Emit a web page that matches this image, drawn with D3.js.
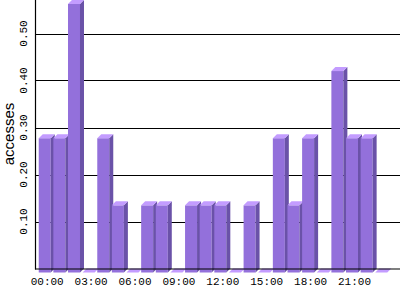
<!DOCTYPE html>
<html>
<head>
<meta charset="utf-8">
<script src="https://cdn.jsdelivr.net/npm/d3@7"></script>
<style>
  body { margin: 0; background: #fff; }
  svg { display: block; }
</style>
</head>
<body>
<div id="chart"></div>
<script>
// hourly accesses (0..23)
const hours = d3.range(24);
const accesses = [0.2857, 0.2857, 0.5714, 0, 0.2857, 0.1429, 0, 0.1429, 0.1429, 0, 0.1429, 0.1429,
                  0.1429, 0, 0.1429, 0, 0.2857, 0.1429, 0.2857, 0, 0.4286, 0.2857, 0.2857, 0];
const yTicks = [0.1, 0.2, 0.3, 0.4, 0.5];
const xTickHours = [0, 3, 6, 9, 12, 15, 18, 21];

const width = 400, height = 300;
const depth = 4; // 3d offset
const frontColor = "#9370db", sideColor = "#6a52a8", topColor = "#c39cff";

const svg = d3.select("#chart").append("svg")
    .attr("width", width)
    .attr("height", height);

const x = d3.scaleBand()
    .domain(hours)
    .range([38, 388])
    .paddingInner(0.18)
    .paddingOuter(0.05);

const y = d3.scaleLinear()
    .domain([0, 0.5])
    .range([268.5, 33.5]);

// grid lines
svg.append("g")
    .selectAll("line")
    .data(yTicks)
    .enter()
    .append("line")
      .attr("x1", 36)
      .attr("x2", width)
      .attr("y1", d => Math.round(y(d)) + 0.5)
      .attr("y2", d => Math.round(y(d)) + 0.5)
      .attr("stroke", "black")
      .attr("stroke-width", 1.2);

// bars drawn left to right so next front covers previous side
const bars = svg.append("g");
hours.forEach(function(h) {
    const v = accesses[h];
    const x0 = x(h), w = x.bandwidth();
    const yTop = y(v) + depth, yBot = y(0) + depth;
    const g = bars.append("g");
    if (v > 0) {
        g.append("rect")
            .attr("x", x0).attr("y", yTop)
            .attr("width", w).attr("height", yBot - yTop)
            .attr("fill", frontColor);
        g.append("path")
            .attr("d", `M${x0 + w},${yTop} L${x0 + w + depth},${yTop - depth} L${x0 + w + depth},${yBot - depth} L${x0 + w},${yBot} Z`)
            .attr("fill", sideColor);
    }
    g.append("path")
        .attr("d", `M${x0},${yTop} L${x0 + depth},${yTop - depth} L${x0 + w + depth},${yTop - depth} L${x0 + w},${yTop} Z`)
        .attr("fill", topColor);
});

// axes lines
svg.append("line")
    .attr("x1", 35.5).attr("x2", 35.5)
    .attr("y1", 0).attr("y2", 269.5)
    .attr("stroke", "black")
    .attr("stroke-width", 1.2);

svg.append("line")
    .attr("x1", 35).attr("x2", width)
    .attr("y1", 269).attr("y2", 269)
    .attr("stroke", "black")
    .attr("stroke-width", 1.2);

// y tick labels, rotated
svg.append("g")
    .selectAll("text")
    .data(yTicks)
    .enter()
    .append("text")
      .attr("transform", d => `translate(27,${y(d)}) rotate(-90)`)
      .attr("text-anchor", "middle")
      .style("font-family", "'Liberation Mono', monospace")
      .style("font-size", "11px")
      .text(d => d.toFixed(2));

// x tick labels
svg.append("g")
    .selectAll("text")
    .data(xTickHours)
    .enter()
    .append("text")
      .attr("x", d => x(d) + 8.5)
      .attr("y", 285)
      .attr("text-anchor", "middle")
      .style("font-family", "'Liberation Mono', monospace")
      .style("font-size", "11px")
      .text(d => d3.format("02")(d) + ":00");

// y axis title
svg.append("text")
    .attr("transform", "translate(14,134) rotate(-90)")
    .attr("text-anchor", "middle")
    .style("font-family", "'Liberation Sans', Arial, sans-serif")
    .style("font-size", "15px")
    .text("accesses");
</script>
</body>
</html>
